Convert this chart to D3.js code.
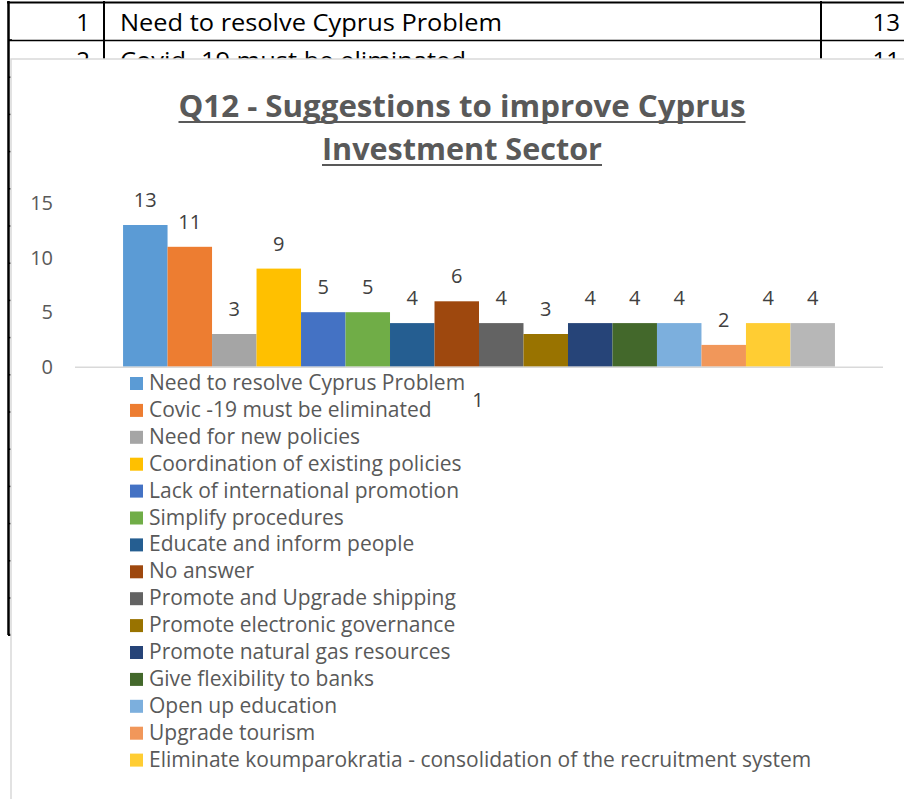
<!DOCTYPE html>
<html>
<head>
<meta charset="utf-8">
<script src="https://cdn.jsdelivr.net/npm/d3@7"></script>
<style>
    body { margin: 0; background: #fff; }
    svg { display: block; }
</style>
</head>
<body>
<div id="chart"></div>
<script>
// answers to Q12, one bar per answer (Excel draws them as 16 series)
var categories = [
    "Need to resolve Cyprus Problem",
    "Covic -19 must be eliminated",
    "Need for new policies",
    "Coordination of existing policies",
    "Lack of international promotion",
    "Simplify procedures",
    "Educate and inform people",
    "No answer",
    "Promote and Upgrade shipping",
    "Promote electronic governance",
    "Promote natural gas resources",
    "Give flexibility to banks",
    "Open up education",
    "Upgrade tourism",
    "Eliminate koumparokratia - consolidation of the recruitment system",
    "Other suggestions"
];
var counts = [13, 11, 3, 9, 5, 5, 4, 6, 4, 3, 4, 4, 4, 2, 4, 4];
var colors = ["#5B9BD5", "#ED7D31", "#A5A5A5", "#FFC000", "#4472C4", "#70AD47", "#255E91", "#9E480E",
    "#636363", "#997300", "#264478", "#43682B", "#7CAFDD", "#F1975A", "#FFCD33", "#B7B7B7"];
var yTicks = [0, 5, 10, 15];
var legendShown = 15;   // last entry is cut off in the original
var strayLabel = "1";

// table rows peeking out behind the chart
var tableNo = [1, 2];
var tableText = ["Need to resolve Cyprus Problem", "Covid -19 must be eliminated"];
var tableCount = [13, 11];

var W = 904, H = 799;
var svg = d3.select("#chart").append("svg").attr("width", W).attr("height", H);

// ---- background table ----
var tbl = svg.append("g");
var rowH = 37.2;
var rowLines = d3.range(0, 17).map(function (k) { return 40 + rowH * k; });
tbl.selectAll("line.rowtick").data(rowLines).enter().append("line")
    .attr("x1", 8).attr("x2", 12)
    .attr("y1", d => d).attr("y2", d => d)
    .attr("stroke", "#000").attr("stroke-width", 1.5);
tbl.append("line").attr("x1", 7).attr("x2", W).attr("y1", 2.5).attr("y2", 2.5)
    .attr("stroke", "#000").attr("stroke-width", 2);
tbl.append("line").attr("x1", 8).attr("x2", W).attr("y1", 40.5).attr("y2", 40.5)
    .attr("stroke", "#000").attr("stroke-width", 1.5);
tbl.append("line").attr("x1", 8.5).attr("x2", 8.5).attr("y1", 1).attr("y2", 635)
    .attr("stroke", "#000").attr("stroke-width", 2.5);
tbl.append("line").attr("x1", 8).attr("x2", 11).attr("y1", 634.5).attr("y2", 634.5)
    .attr("stroke", "#000").attr("stroke-width", 1.5);
[104, 821].forEach(function (x) {
    tbl.append("line").attr("x1", x).attr("x2", x).attr("y1", 1).attr("y2", 60)
        .attr("stroke", "#000").attr("stroke-width", 2);
});
tableNo.forEach(function (n, i) {
    var y = 31 + 38 * i;
    tbl.append("text").attr("x", 90).attr("y", y).attr("text-anchor", "end")
        .style("font-family", "'Open Sans', sans-serif").style("font-size", "24px").attr("fill", "#000")
        .text(n);
    tbl.append("text").attr("x", 120).attr("y", y)
        .attr("textLength", i == 0 ? 382 : 346).attr("lengthAdjust", "spacingAndGlyphs")
        .style("font-family", "'Open Sans', sans-serif").style("font-size", "24px").attr("fill", "#000")
        .text(tableText[i]);
    tbl.append("text").attr("x", 900).attr("y", y).attr("text-anchor", "end")
        .style("font-family", "'Open Sans', sans-serif").style("font-size", "24px").attr("fill", "#000")
        .text(tableCount[i]);
});

// ---- chart area ----
svg.append("rect").attr("x", 11).attr("y", 59).attr("width", W).attr("height", H)
    .attr("fill", "#fff").attr("stroke", "#d9d9d9").attr("stroke-width", 1.5);

var font = "'Open Sans', sans-serif";

// title, two underlined lines
var titleLines = [
    { t: "Q12 - Suggestions to improve Cyprus", y: 117, w: 567 },
    { t: "Investment Sector", y: 160, w: 280 }
];
var cx = 462;
titleLines.forEach(function (l) {
    svg.append("text").attr("x", cx - l.w / 2).attr("y", l.y)
        .attr("textLength", l.w).attr("lengthAdjust", "spacingAndGlyphs")
        .style("font-family", font).style("font-size", "31px").style("font-weight", "bold")
        .attr("fill", "#595959").text(l.t);
    svg.append("line").attr("x1", cx - l.w / 2).attr("x2", cx + l.w / 2)
        .attr("y1", l.y + 5).attr("y2", l.y + 5)
        .attr("stroke", "#595959").attr("stroke-width", 2);
});

// scales
var x = d3.scaleBand().domain(categories).range([75, 883])
    .paddingInner(0).paddingOuter(1.08);
var y = d3.scaleLinear().domain([0, 15]).range([366.7, 203.2]);

// y axis labels only, no line or gridlines
var yAxis = svg.append("g").attr("transform", "translate(53,0)")
    .call(d3.axisLeft(y).tickValues(yTicks).tickSize(0).tickPadding(0));
yAxis.select(".domain").remove();
yAxis.selectAll("text")
    .style("font-family", font).style("font-size", "20px").attr("fill", "#595959");

// bars
svg.append("g").selectAll("rect")
    .data(counts).enter().append("rect")
    .attr("x", (d, i) => x(categories[i]))
    .attr("y", d => y(d))
    .attr("width", x.bandwidth())
    .attr("height", d => y(0) - y(d))
    .attr("fill", (d, i) => colors[i]);

// category axis line
svg.append("line").attr("x1", 75).attr("x2", 883).attr("y1", y(0) + 0.5).attr("y2", y(0) + 0.5)
    .attr("stroke", "#d9d9d9").attr("stroke-width", 1.5);

// data labels
svg.append("g").selectAll("text")
    .data(counts).enter().append("text")
    .attr("x", (d, i) => x(categories[i]) + x.bandwidth() / 2)
    .attr("y", d => y(d) - 18)
    .attr("text-anchor", "middle")
    .style("font-family", font).style("font-size", "20px")
    .attr("fill", "#404040")
    .text(d => d);

// a label that ended up under the axis in the original
svg.append("text").attr("x", 478).attr("y", 407).attr("text-anchor", "middle")
    .style("font-family", font).style("font-size", "20px").attr("fill", "#404040")
    .text(strayLabel);

// legend
var leg = svg.append("g").selectAll("g")
    .data(categories.slice(0, legendShown)).enter().append("g")
    .attr("transform", (d, i) => "translate(130," + (377 + i * 26.9) + ")");
leg.append("rect").attr("width", 13).attr("height", 13)
    .attr("fill", (d, i) => colors[i]);
leg.append("text").attr("x", 19).attr("y", 13)
    .style("font-family", font).style("font-size", "21px").attr("fill", "#595959")
    .text(d => d);
</script>
</body>
</html>
